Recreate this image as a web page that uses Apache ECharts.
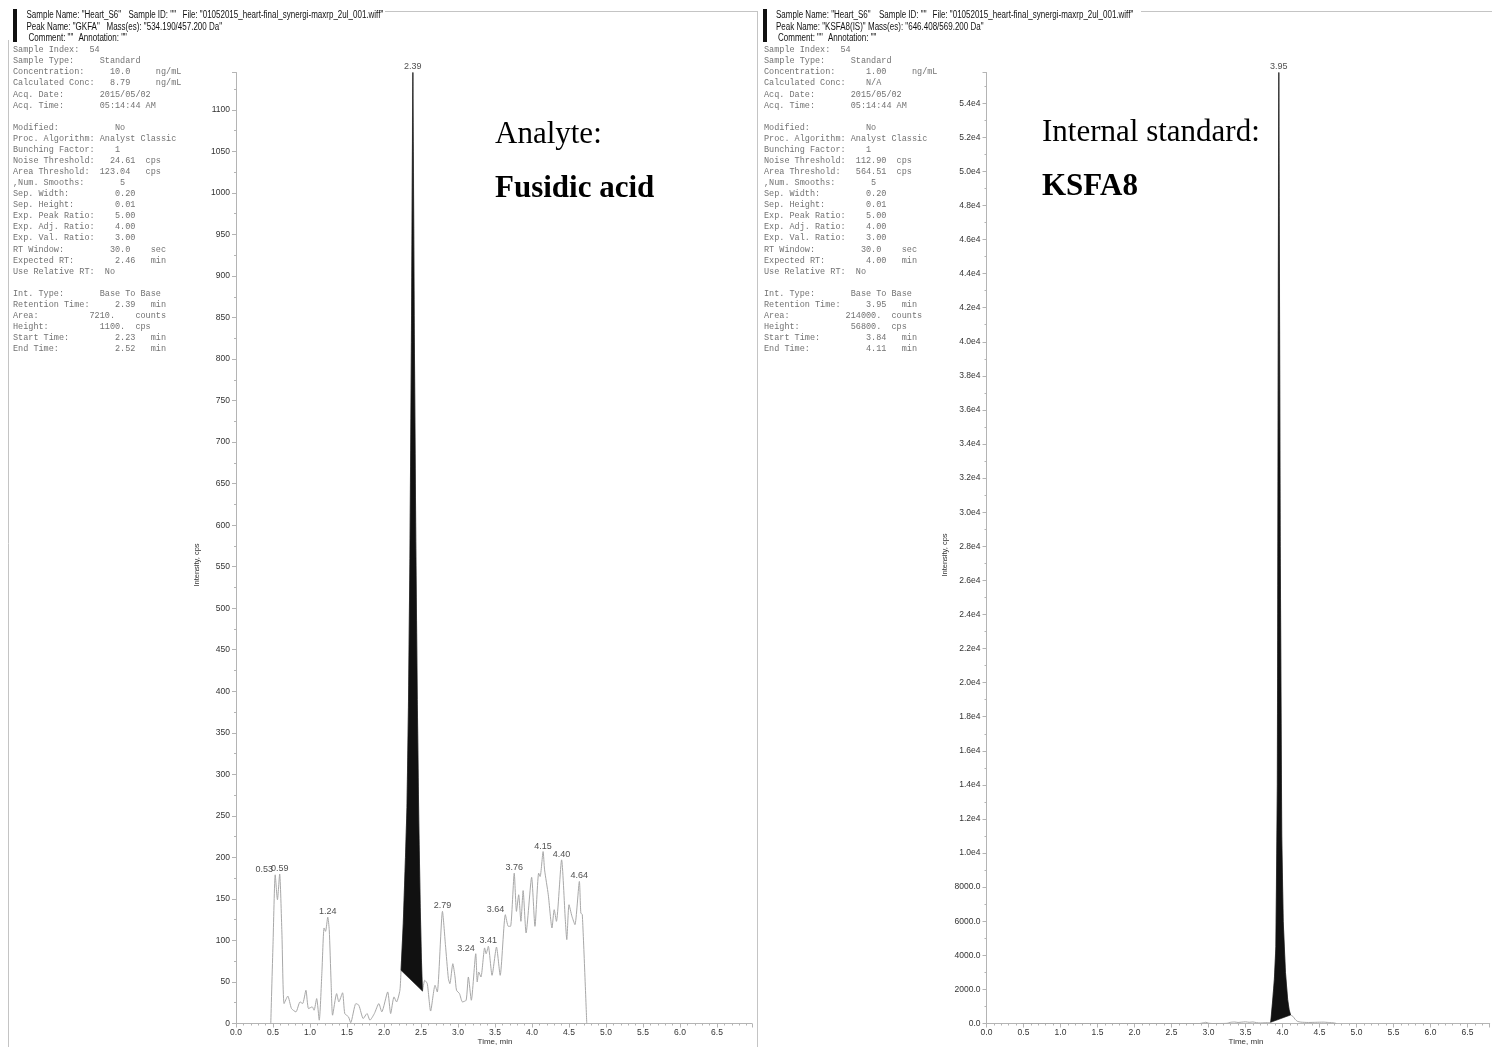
<!DOCTYPE html>
<html>
<head>
<meta charset="utf-8">
<script src="https://cdn.jsdelivr.net/npm/echarts@6/dist/echarts.min.js"></script>
<style>
  html, body { margin: 0; padding: 0; background: #fff; }
  #chart { width: 1492px; height: 1047px; }
</style>
</head>
<body>
<div id="chart"></div>
<script>
// ---- Analyte (GKFA / fusidic acid) XIC: retention time (min) and intensity (cps)
const analyteTime = [
  0.47, 0.50, 0.53, 0.56, 0.59, 0.62, 0.65, 0.70, 0.75, 0.81, 0.865, 0.90, 0.945, 0.98, 1.03, 1.055,
  1.09, 1.125, 1.16, 1.19, 1.21, 1.24, 1.26, 1.285, 1.305, 1.36, 1.39, 1.44, 1.47, 1.52, 1.55, 1.62,
  1.66, 1.72, 1.77, 1.81, 1.87, 1.93, 1.97, 2.05, 2.09, 2.135, 2.17, 2.215, 2.23, 2.26, 2.29, 2.31,
  2.33, 2.35, 2.37, 2.39, 2.41, 2.43, 2.45, 2.47, 2.49, 2.505, 2.52, 2.55, 2.585, 2.63, 2.69, 2.72,
  2.79, 2.83, 2.87, 2.89, 2.93, 2.96, 2.98, 3.02, 3.06, 3.11, 3.14, 3.18, 3.24, 3.26, 3.28, 3.31,
  3.36, 3.38, 3.41, 3.46, 3.52, 3.57, 3.64, 3.68, 3.71, 3.76, 3.79, 3.82, 3.85, 3.88, 3.92, 3.995,
  4.04, 4.09, 4.11, 4.15, 4.17, 4.22, 4.27, 4.30, 4.33, 4.40, 4.45, 4.47, 4.50, 4.54, 4.58, 4.64,
  4.66, 4.68, 4.74
];
const analyteIntensity = [
  0, 95, 179, 149, 180, 110, 24, 33, 18, 14, 26, 24, 40, 18, 20, 16,
  30, 4, 60, 115, 111, 128, 113, 50, 10, 36, 26, 37, 12, 8, 1, 24,
  22, 6, 12, 4, 12, 24, 14, 38, 12, 32, 26, 40, 64, 120, 200, 260,
  380, 560, 820, 1145, 830, 580, 390, 245, 140, 80, 39, 52, 48, 15, 46, 38,
  135, 95, 54, 48, 72, 56, 40, 36, 26, 28, 56, 28, 84, 50, 62, 56,
  91, 84, 93, 58, 92, 58, 131, 117, 117, 181, 135, 155, 123, 160, 109, 176,
  117, 181, 177, 207, 185, 155, 115, 137, 123, 197, 125, 101, 143, 129, 119, 171,
  133, 131, 0
];
const analytePeakTimes = [0.53, 0.59, 1.24, 2.39, 2.79, 3.24, 3.41, 3.64, 3.76, 4.15, 4.40, 4.64];
const analyteIntegration = [2.23, 2.52];

// ---- Internal standard (KSFA8) XIC
const istdTime = [
  0.47, 2.88, 2.93, 2.96, 3.00, 3.05, 3.25, 3.30, 3.35, 3.40, 3.45, 3.50, 3.55, 3.60, 3.65, 3.70,
  3.75, 3.80, 3.84, 3.87, 3.89, 3.91, 3.93, 3.95, 3.97, 3.99, 4.01, 4.04, 4.07, 4.09, 4.11, 4.14,
  4.17, 4.20, 4.25, 4.35, 4.45, 4.55, 4.62, 4.70, 4.73
];
const istdIntensity = [
  0, 0, 40, 70, 20, 0, 10, 70, 90, 60, 80, 100, 70, 90, 50, 30,
  40, 50, 70, 1500, 2600, 4500, 14000, 55800, 28000, 11000, 6000, 3000, 1400, 800, 500, 420,
  250, 130, 80, 60, 70, 80, 60, 30, 0
];
const istdPeakTimes = [3.95];
const istdIntegration = [3.84, 4.11];

// ---- Header and processing-parameter text
const headerLeft = [
  ['Sample Name: "Heart_S6"', 'Sample ID: ""', 'File: "01052015_heart-final_synergi-maxrp_2ul_001.wiff"'],
  ['Peak Name: "GKFA"', 'Mass(es): "534.190/457.200 Da"'],
  ['Comment: ""', 'Annotation: ""']
];
const headerRight = [
  ['Sample Name: "Heart_S6"', 'Sample ID: ""', 'File: "01052015_heart-final_synergi-maxrp_2ul_001.wiff"'],
  ['Peak Name: "KSFA8(IS)"', 'Mass(es): "646.408/569.200 Da"'],
  ['Comment: ""', 'Annotation: ""']
];
const infoLeft = [
  'Sample Index:  54',
  'Sample Type:     Standard',
  'Concentration:     10.0     ng/mL',
  'Calculated Conc:   8.79     ng/mL',
  'Acq. Date:       2015/05/02',
  'Acq. Time:       05:14:44 AM',
  '',
  'Modified:           No',
  'Proc. Algorithm: Analyst Classic',
  'Bunching Factor:    1',
  'Noise Threshold:   24.61  cps',
  'Area Threshold:  123.04   cps',
  ',Num. Smooths:       5',
  'Sep. Width:         0.20',
  'Sep. Height:        0.01',
  'Exp. Peak Ratio:    5.00',
  'Exp. Adj. Ratio:    4.00',
  'Exp. Val. Ratio:    3.00',
  'RT Window:         30.0    sec',
  'Expected RT:        2.46   min',
  'Use Relative RT:  No',
  '',
  'Int. Type:       Base To Base',
  'Retention Time:     2.39   min',
  'Area:          7210.    counts',
  'Height:          1100.  cps',
  'Start Time:         2.23   min',
  'End Time:           2.52   min'
];
const infoRight = [
  'Sample Index:  54',
  'Sample Type:     Standard',
  'Concentration:      1.00     ng/mL',
  'Calculated Conc:    N/A',
  'Acq. Date:       2015/05/02',
  'Acq. Time:       05:14:44 AM',
  '',
  'Modified:           No',
  'Proc. Algorithm: Analyst Classic',
  'Bunching Factor:    1',
  'Noise Threshold:  112.90  cps',
  'Area Threshold:   564.51  cps',
  ',Num. Smooths:       5',
  'Sep. Width:         0.20',
  'Sep. Height:        0.01',
  'Exp. Peak Ratio:    5.00',
  'Exp. Adj. Ratio:    4.00',
  'Exp. Val. Ratio:    3.00',
  'RT Window:         30.0    sec',
  'Expected RT:        4.00   min',
  'Use Relative RT:  No',
  '',
  'Int. Type:       Base To Base',
  'Retention Time:     3.95   min',
  'Area:           214000.  counts',
  'Height:          56800.  cps',
  'Start Time:         3.84   min',
  'End Time:           4.11   min'
];
const titleLeft = ['Analyte:', 'Fusidic acid'];
const titleRight = ['Internal standard:', 'KSFA8'];

// ---------------------------------------------------------------------------
const SANS = '"Liberation Sans", Arial, sans-serif';
const MONO = '"Liberation Mono", "Courier New", monospace';
const SERIF = '"Liberation Serif", "Times New Roman", serif';
const AXIS_GRAY = '#b4b4b4';
const TRACE_GRAY = '#a8a8a8';

function pairs(times, vals) {
  return times.map((t, i) => [t, vals[i]]);
}
function valueAt(times, vals, t) {
  const i = times.findIndex(v => Math.abs(v - t) < 1e-9);
  return vals[i];
}

function xAxis(gridIndex, max) {
  return {
    type: 'value', gridIndex, min: 0, max, interval: 0.5,
    axisLine: { show: true, onZero: false, lineStyle: { color: AXIS_GRAY, width: 1 } },
    axisTick: { show: true, length: 4, lineStyle: { color: AXIS_GRAY } },
    minorTick: { show: true, splitNumber: 5, length: 2, lineStyle: { color: AXIS_GRAY } },
    splitLine: { show: false },
    axisLabel: {
      fontSize: 8.5, fontFamily: SANS, color: '#333', margin: 5,
      showMaxLabel: false, formatter: v => v.toFixed(1)
    }
  };
}
function yAxis(gridIndex, max, interval, fmt) {
  return {
    type: 'value', gridIndex, min: 0, max, interval,
    axisLine: { show: true, onZero: false, lineStyle: { color: AXIS_GRAY, width: 1 } },
    axisTick: { show: true, length: 4, lineStyle: { color: AXIS_GRAY } },
    minorTick: { show: true, splitNumber: 2, length: 2, lineStyle: { color: AXIS_GRAY } },
    splitLine: { show: false },
    axisLabel: {
      fontSize: 8.5, fontFamily: SANS, color: '#333', margin: 6,
      showMaxLabel: false, formatter: fmt
    }
  };
}

function traceSeries(idx, times, vals) {
  return {
    type: 'line', xAxisIndex: idx, yAxisIndex: idx, data: pairs(times, vals),
    showSymbol: false, smooth: 0.2, silent: true, z: 2,
    lineStyle: { color: TRACE_GRAY, width: 1 }
  };
}

// Integrated peak: area between the trace and the straight base-to-base line
function peakFill(idx, times, vals, range) {
  const sel = times.map((t, i) => i).filter(i => times[i] >= range[0] - 1e-9 && times[i] <= range[1] + 1e-9);
  return {
    type: 'custom', xAxisIndex: idx, yAxisIndex: idx, silent: true, z: 3,
    data: [[times[sel[0]], vals[sel[0]]]],
    renderItem: (params, api) => ({
      type: 'polygon',
      shape: { points: sel.map(i => api.coord([times[i], vals[i]])) },
      style: { fill: '#111', stroke: '#111', lineWidth: 0.6 }
    })
  };
}

function peakLabels(idx, times, vals, peaks) {
  return {
    type: 'scatter', xAxisIndex: idx, yAxisIndex: idx, silent: true, z: 4,
    symbolSize: 0,
    data: peaks.map(t => {
      const item = { value: [t, valueAt(times, vals, t)] };
      if (t === 3.24 || t === 3.64) {
        item.label = { position: 'left', distance: 1, offset: [0, -5] };
      } else if (t === 0.53) {
        item.label = { offset: [-11, 1] };
      }
      return item;
    }),
    label: {
      show: true, position: 'top', distance: 2, offset: [0, 1],
      fontSize: 9, fontFamily: SANS, color: '#222',
      formatter: p => p.value[0].toFixed(2)
    }
  };
}

// Text, frame lines and header bars
function headerBlock(lines, xs, barX) {
  const els = [{ type: 'rect', shape: { x: barX, y: 9, width: 4, height: 33 }, style: { fill: '#111' } }];
  const ys = [15, 27, 38];
  lines.forEach((segs, r) => {
    segs.forEach((s, c) => {
      els.push({
        type: 'text', x: xs[r][c], y: ys[r], scaleX: 0.8,
        style: { text: s, font: '10px ' + SANS, fill: '#111', verticalAlign: 'middle', align: 'left' }
      });
    });
  });
  return els;
}
function infoBlock(lines, x) {
  return {
    type: 'text', x, y: 44.5,
    style: {
      text: lines.join('\n'), font: '8.5px ' + MONO, fill: '#737373',
      lineHeight: 11.07, verticalAlign: 'top', align: 'left'
    }
  };
}
function titleBlock(lines, x, y1, y2) {
  return [
    { type: 'text', x, y: y1, style: { text: lines[0], font: '31px ' + SERIF, fill: '#000', verticalAlign: 'middle' } },
    { type: 'text', x, y: y2, style: { text: lines[1], font: 'bold 31px ' + SERIF, fill: '#000', verticalAlign: 'middle' } }
  ];
}
function axisTitle(text, x, y, rotation, size) {
  return {
    type: 'text', x, y, rotation,
    style: { text, font: size + 'px ' + SANS, fill: '#333', align: 'center', verticalAlign: 'middle' }
  };
}
function vline(x, y1, y2) {
  return { type: 'line', shape: { x1: x, y1, x2: x, y2 }, style: { stroke: '#c4c4c4', lineWidth: 1 }, silent: true };
}
function hline(x1, x2, y) {
  return { type: 'line', shape: { x1, y1: y, x2, y2: y }, style: { stroke: '#c4c4c4', lineWidth: 1 }, silent: true };
}

const graphics = [
  vline(8.5, 40, 1047), vline(757.5, 11, 1047),
  hline(385, 757.5, 11.5), hline(1141, 1492, 11.5),
  ...headerBlock(headerLeft, [[26.5, 128.5, 182.5], [26.5, 106.5], [28.5, 78.5]], 13),
  ...headerBlock(headerRight, [[776, 879, 932.5], [776, 868], [778, 828]], 763),
  infoBlock(infoLeft, 13),
  infoBlock(infoRight, 764),
  ...titleBlock(titleLeft, 495, 135, 189),
  ...titleBlock(titleRight, 1042, 133, 187),
  axisTitle('Intensity, cps', 197, 565, Math.PI / 2, 7.5),
  axisTitle('Intensity, cps', 945, 555, Math.PI / 2, 7.5),
  axisTitle('Time, min', 495, 1042, 0, 8),
  axisTitle('Time, min', 1246, 1042, 0, 8)
];

const option = {
  animation: false,
  backgroundColor: '#fff',
  grid: [
    { left: 236, top: 72.5, width: 6.97 * 74, height: 951, outerBoundsMode: 'none', containLabel: false },
    { left: 986.5, top: 72.5, width: 6.8 * 74, height: 951, outerBoundsMode: 'none', containLabel: false }
  ],
  xAxis: [xAxis(0, 6.97), xAxis(1, 6.8)],
  yAxis: [
    yAxis(0, 1145, 50, v => String(v)),
    yAxis(1, 55800, 2000, v => v >= 10000 ? (v / 10000).toFixed(1) + 'e4' : v.toFixed(1))
  ],
  series: [
    traceSeries(0, analyteTime, analyteIntensity),
    peakFill(0, analyteTime, analyteIntensity, analyteIntegration),
    peakLabels(0, analyteTime, analyteIntensity, analytePeakTimes),
    traceSeries(1, istdTime, istdIntensity),
    peakFill(1, istdTime, istdIntensity, istdIntegration),
    peakLabels(1, istdTime, istdIntensity, istdPeakTimes)
  ],
  graphic: { elements: graphics }
};

const chart = echarts.init(document.getElementById('chart'), null, { renderer: 'canvas' });
chart.setOption(option);
</script>
</body>
</html>
